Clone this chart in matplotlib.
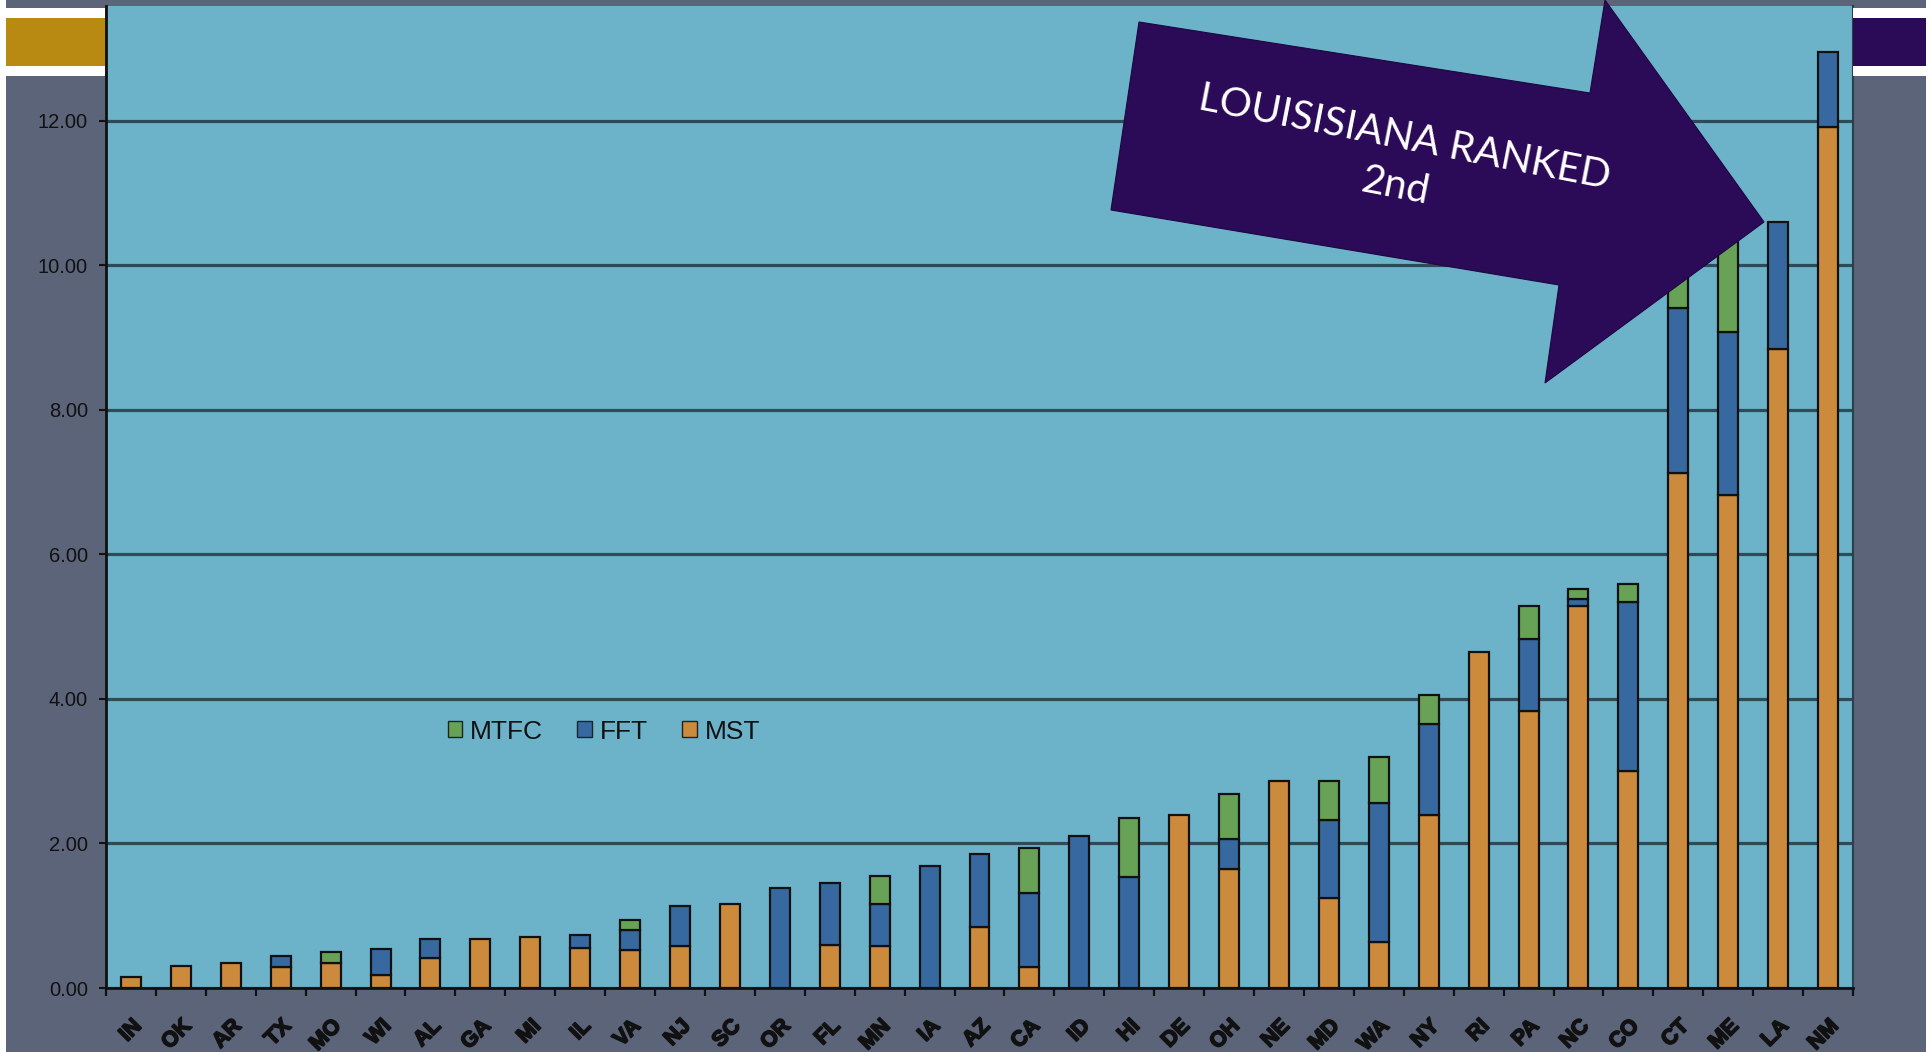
import matplotlib
matplotlib.use('Agg')
import matplotlib.pyplot as plt
import matplotlib.patheffects as pe
from matplotlib.patches import Patch, Polygon, Rectangle
import numpy as np

W, H = 1931, 1052

SLATE = '#5C647A'
PLOT_BG = '#6CB3CA'
GOLD = '#B98A12'
PURPLE = '#2B0A57'
C_MST = '#CC8A3C'
C_FFT = '#3868A0'
C_MTFC = '#67A257'
GRID = '#2E4C58'

states = ['IN', 'OK', 'AR', 'TX', 'MO', 'WI', 'AL', 'GA', 'MI', 'IL', 'VA', 'NJ',
          'SC', 'OR', 'FL', 'MN', 'IA', 'AZ', 'CA', 'ID', 'HI', 'DE', 'OH', 'NE',
          'MD', 'WA', 'NY', 'RI', 'PA', 'NC', 'CO', 'CT', 'ME', 'LA', 'NM']
mst = [0.15, 0.30, 0.35, 0.29, 0.34, 0.18, 0.42, 0.68, 0.70, 0.55, 0.53, 0.58,
       1.16, 0.00, 0.60, 0.58, 0.00, 0.84, 0.29, 0.00, 0.00, 2.39, 1.65, 2.86,
       1.24, 0.63, 2.40, 4.65, 3.84, 5.29, 3.00, 7.13, 6.82, 8.84, 11.92]
fft = [0.00, 0.00, 0.00, 0.15, 0.00, 0.36, 0.26, 0.00, 0.00, 0.18, 0.27, 0.56,
       0.00, 1.38, 0.85, 0.58, 1.69, 1.02, 1.02, 2.11, 1.53, 0.00, 0.41, 0.00,
       1.08, 1.93, 1.25, 0.00, 0.99, 0.10, 2.34, 2.28, 2.26, 1.76, 1.03]
mtfc = [0.00, 0.00, 0.00, 0.00, 0.16, 0.00, 0.00, 0.00, 0.00, 0.00, 0.14, 0.00,
        0.00, 0.00, 0.00, 0.39, 0.00, 0.00, 0.63, 0.00, 0.82, 0.00, 0.63, 0.00,
        0.54, 0.63, 0.41, 0.00, 0.46, 0.13, 0.25, 0.75, 1.35, 0.00, 0.00]
yticks = [0, 2, 4, 6, 8, 10, 12]
callout = 'LOUISISIANA RANKED\n2nd'


def fx(px):
    return px / W


def fy(py):
    return 1 - py / H


fig = plt.figure(figsize=(W / 100, H / 100), dpi=100, facecolor=SLATE)
ax = fig.add_axes([fx(106), fy(988), fx(1853) - fx(106), fy(6) - fy(988)])
ax.set_facecolor(PLOT_BG)

x = np.arange(len(states))
mst_a, fft_a, mtfc_a = np.array(mst), np.array(fft), np.array(mtfc)
bw = 0.4
kw = dict(width=bw, edgecolor='#111111', linewidth=1.6, zorder=3)

m = mst_a > 0
ax.bar(x[m], mst_a[m], color=C_MST, **kw)
m = fft_a > 0
ax.bar(x[m], fft_a[m], bottom=mst_a[m], color=C_FFT, **kw)
m = mtfc_a > 0
ax.bar(x[m], mtfc_a[m], bottom=(mst_a + fft_a)[m], color=C_MTFC, **kw)

ax.set_xlim(-0.5, len(states) - 0.5)
ax.set_ylim(0, 13.59)

ax.set_yticks(yticks)
ax.set_yticklabels([f'{v:.2f}' for v in yticks], fontsize=14.5,
                   family='Liberation Sans', color='#111111')
ax.tick_params(axis='y', length=5, width=1.5, pad=8, color='#111111')
ax.grid(True, axis='y', color=GRID, linewidth=2.3, zorder=1)
ax.set_axisbelow(True)

ax.set_xticks(x)
ax.set_xticklabels(states, rotation=45, ha='right', va='top',
                   rotation_mode='anchor', fontsize=15.5, fontweight='bold',
                   family='Liberation Sans', color='#111111')
for t in ax.get_xticklabels():
    t.set_path_effects([pe.withStroke(linewidth=1.2, foreground='#111111')])
ax.tick_params(axis='x', which='major', length=0, pad=20)
ax.set_xticks(np.arange(-0.5, len(states)), minor=True)
ax.tick_params(axis='x', which='minor', length=6, width=1.6, color='#111111')

for s in ['left', 'bottom']:
    ax.spines[s].set_color('#111111')
    ax.spines[s].set_linewidth(2)
ax.spines['right'].set_color('#2a3f48')
ax.spines['right'].set_linewidth(1.5)
ax.spines['top'].set_visible(False)

handles = [Patch(facecolor=C_MTFC, edgecolor='#222222', label='MTFC'),
           Patch(facecolor=C_FFT, edgecolor='#222222', label='FFT'),
           Patch(facecolor=C_MST, edgecolor='#222222', label='MST')]
leg = ax.legend(handles=handles, ncol=3, loc='center', bbox_to_anchor=(0.285, 0.261),
                frameon=False, prop={'family': 'Liberation Sans', 'size': 19},
                handlelength=0.55, handleheight=0.55, handletextpad=0.3,
                columnspacing=1.3)
for t in leg.get_texts():
    t.set_color('#111111')

# side decorations (gold bar left, purple bar right, white strips)
fig.add_artist(Rectangle((0, 0), fx(6), 1, transform=fig.transFigure,
                         facecolor='white', edgecolor='none', zorder=0))
fig.add_artist(Rectangle((fx(1926), 0), 1 - fx(1926), 1, transform=fig.transFigure,
                         facecolor='white', edgecolor='none', zorder=0))
for x0, x1, col in [(6, 105, GOLD), (1853, 1926, PURPLE)]:
    fig.add_artist(Rectangle((fx(x0), fy(76)), fx(x1) - fx(x0), fy(8) - fy(76),
                             transform=fig.transFigure, facecolor='white',
                             edgecolor='none', zorder=1))
    fig.add_artist(Rectangle((fx(x0), fy(66)), fx(x1) - fx(x0), fy(18) - fy(66),
                             transform=fig.transFigure, facecolor=col,
                             edgecolor='none', zorder=2))

# callout arrow
arrow_px = [(1139, 22), (1590, 93), (1605, 0), (1764, 222),
            (1545, 383), (1559, 285), (1111, 210)]
fig.add_artist(Polygon([(fx(a), fy(b)) for a, b in arrow_px], closed=True,
                       transform=fig.transFigure, facecolor=PURPLE,
                       edgecolor='#1c0740', linewidth=0.8, zorder=10))
fig.text(fx(1400), fy(162), callout, rotation=-11, rotation_mode='anchor',
         ha='center', va='center', multialignment='center', color='white',
         fontsize=29, family='Lato', linespacing=1.4, zorder=11)

fig.savefig('out.png', dpi=100, facecolor=fig.get_facecolor())
